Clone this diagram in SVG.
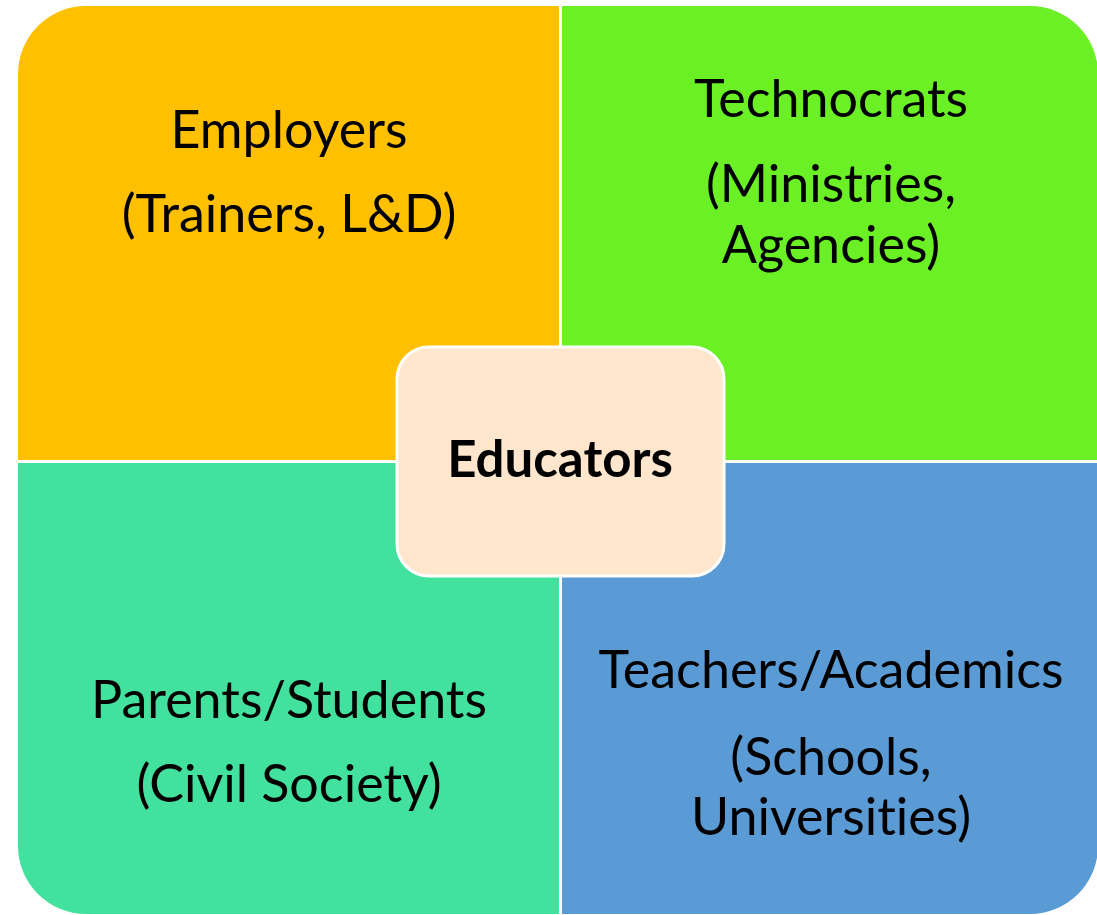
<svg xmlns="http://www.w3.org/2000/svg" width="1097" height="915" viewBox="0 0 1097 915">
  <style>
    .lbl { font-family: Lato, "Noto Sans", "Liberation Sans", sans-serif; font-size: 52px; fill: #000; text-anchor: middle; font-variant-ligatures: none; }
    .ctr { font-family: Lato, "Noto Sans", "Liberation Sans", sans-serif; font-size: 51px; font-weight: bold; fill: #000; text-anchor: middle; font-variant-ligatures: none; }
  </style>
  <rect x="0" y="0" width="1097" height="915" fill="#ffffff"/>
  <g id="employers">
    <path d="M18,460 L18,74 A68,68 0 0 1 86,6 L559,6 L559,460 Z" fill="#FFC000"/>
    <text class="lbl" x="289" y="148">Employers</text>
    <text class="lbl" x="289" y="232">(Trainers, L&amp;D)</text>
  </g>
  <g id="technocrats">
    <path d="M562,6 L1030,6 A68,68 0 0 1 1098,74 L1098,460 L562,460 Z" fill="#6AF024"/>
    <text class="lbl" x="831" y="117">Technocrats</text>
    <text class="lbl" x="831" y="202">(Ministries,</text>
    <text class="lbl" x="831" y="263">Agencies)</text>
  </g>
  <g id="parents">
    <path d="M18,463 L559,463 L559,914 L86,914 A68,68 0 0 1 18,846 Z" fill="#42E29E"/>
    <text class="lbl" x="289" y="718">Parents/Students</text>
    <text class="lbl" x="289" y="802">(Civil Society)</text>
  </g>
  <g id="teachers">
    <path d="M562,463 L1098,463 L1098,846 A68,68 0 0 1 1030,914 L562,914 Z" fill="#5B9BD5"/>
    <text class="lbl" x="831" y="688">Teachers/Academics</text>
    <text class="lbl" x="831" y="775">(Schools,</text>
    <text class="lbl" x="831" y="835">Universities)</text>
  </g>
  <g id="educators">
    <rect x="397" y="347" width="327" height="229" rx="32" ry="32" fill="#FFE6CC" stroke="#ffffff" stroke-width="3"/>
    <text class="ctr" x="560" y="477">Educators</text>
  </g>
  <g id="connectors"></g>
</svg>
